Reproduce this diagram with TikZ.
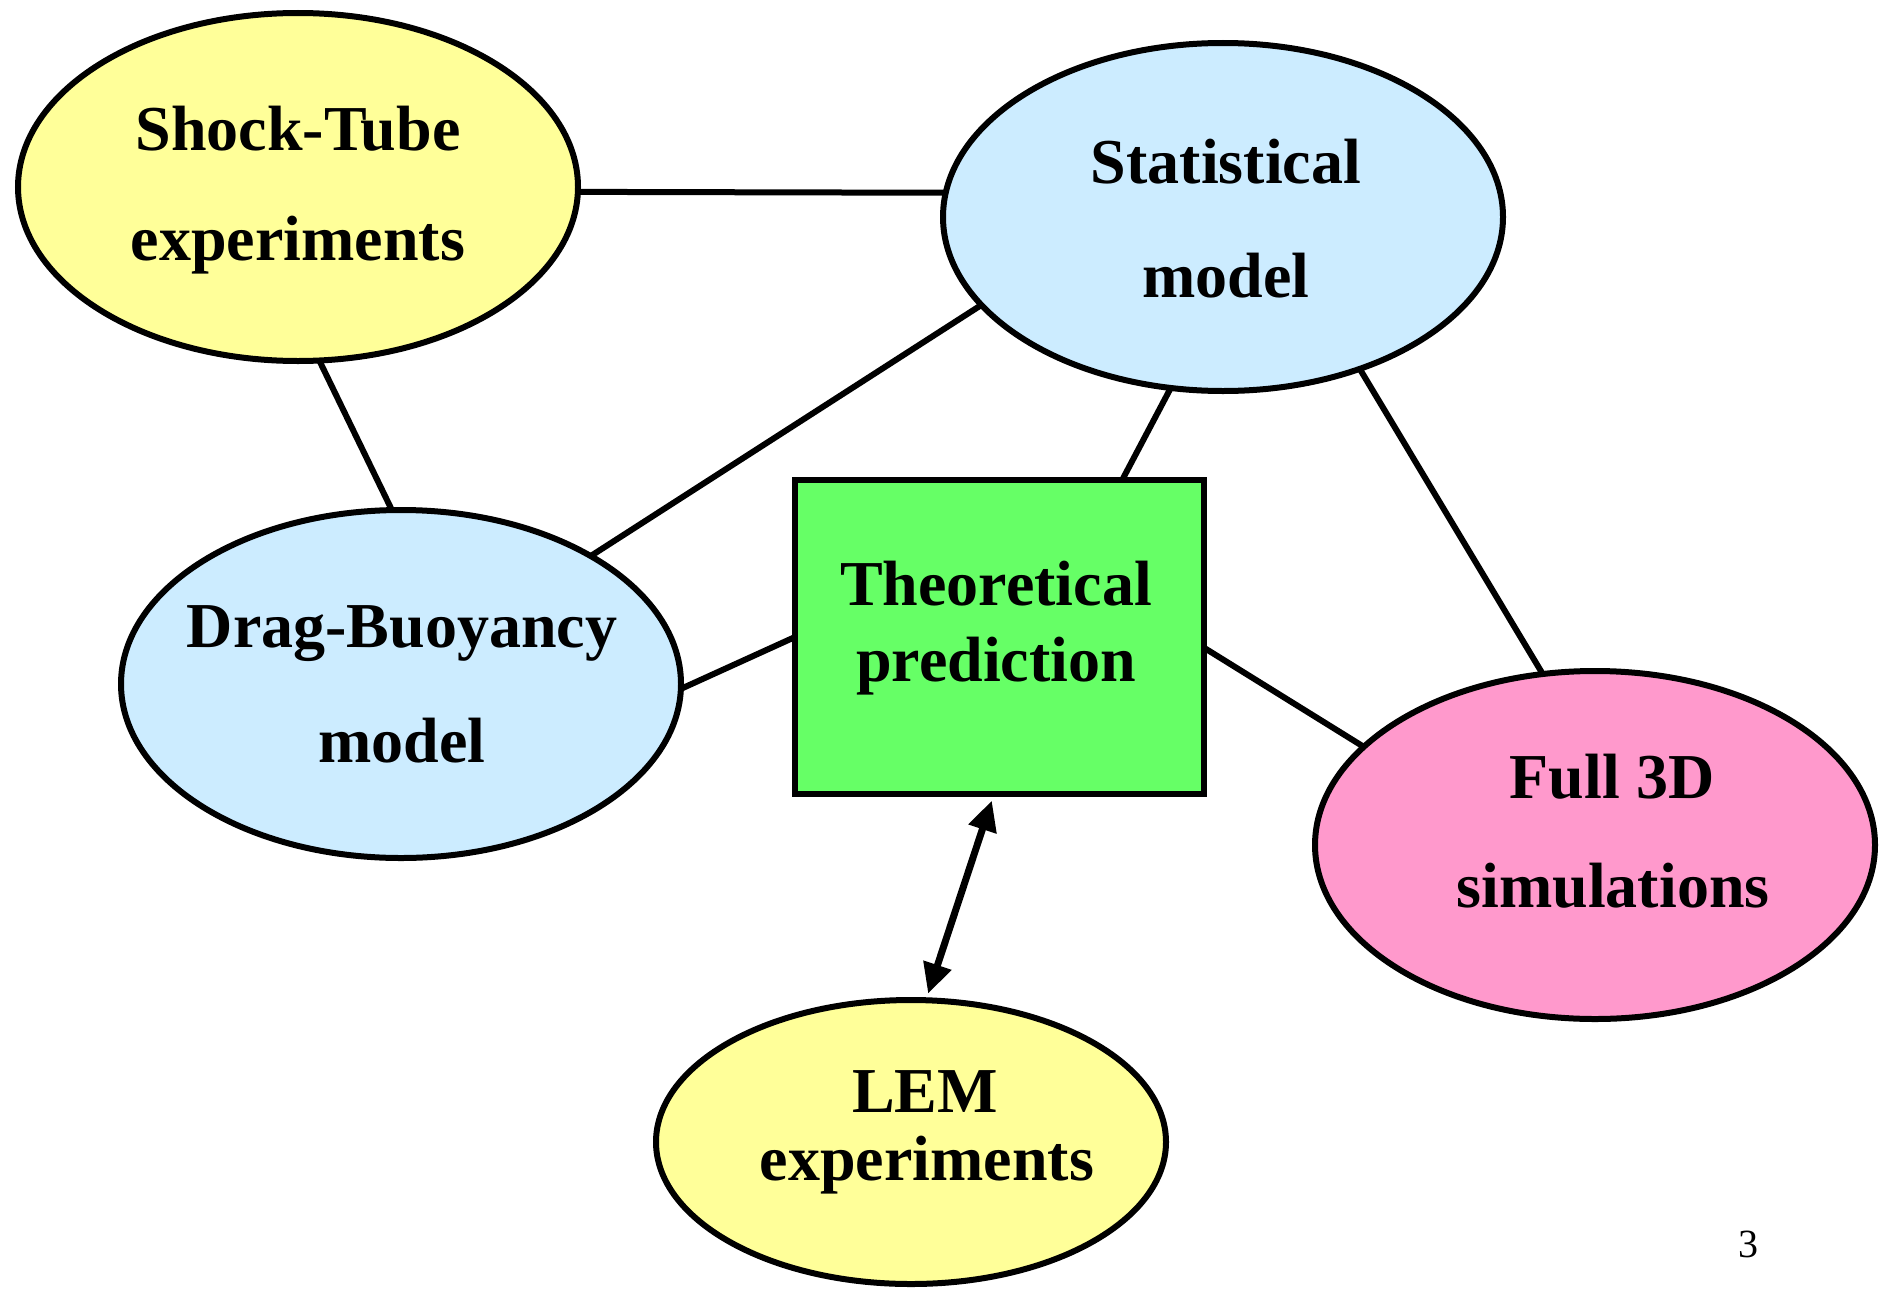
\documentclass[tikz,border=0pt]{standalone}
\usepackage{fontspec}
\setmainfont{Liberation Serif}
\usetikzlibrary{shapes.geometric,arrows.meta}
\definecolor{cyellow}{HTML}{FFFF99}
\definecolor{cblue}{HTML}{CCECFF}
\definecolor{cgreen}{HTML}{66FF66}
\definecolor{cpink}{HTML}{FF99CC}
\begin{document}
\begin{tikzpicture}[x=1pt,y=-1pt,
  bubble/.style={ellipse, draw=black, line width=6pt, inner sep=0pt, outer sep=0pt,
                 minimum width=560pt, minimum height=348pt},
  lab/.style={anchor=base, inner sep=0pt, font=\fontsize{64}{70}\selectfont\bfseries},
  link/.style={line width=6pt, line cap=butt}]
\useasboundingbox (0,0) rectangle (1881,1290);

% connectors first (behind shapes)
\node[bubble, fill=cyellow] (shock) at (298,187) {};
\node[bubble, fill=cblue] (stat) at (1223,217) {};
\node[bubble, fill=cblue] (drag) at (401,684) {};
\node[bubble, fill=cpink] (full) at (1595,845) {};
\node[bubble, fill=cyellow, minimum width=510pt, minimum height=284pt] (lem) at (911,1142) {};
\node[draw=black, line width=6pt, fill=cgreen, inner sep=0pt, outer sep=0pt,
      minimum width=409pt, minimum height=314pt] (theo) at (999.5,637) {};

\draw[link] (shock.-1) -- (stat.175);
\draw[link] (shock.-83) -- (drag.93);
\draw[link] (stat.200) -- (drag.34.5);
\draw[link] (stat.253) -- (theo.52.3);
\draw[link] (stat.-48) -- (full.107.5);
\draw[link] (drag.-1) -- (theo.west);
\draw[link] (theo.-3.4) -- (full.157.4);
\draw[line width=7pt, {Triangle[length=30pt,width=28pt]}-{Triangle[length=30pt,width=28pt]},
      shorten <=7pt, shorten >=7pt] (theo.-92.4) -- (lem.84.6);

\node[lab] (t1) at (298,150) {Shock-Tube};
\node[lab] (t2) at (298,260) {experiments};
\node[lab] (t3) at (1226,183) {Statistical};
\node[lab] (t4) at (1226,297) {model};
\node[lab] (t5) at (402,647) {Drag-Buoyancy};
\node[lab] (t6) at (402,762) {model};
\node[lab] (t7) at (996,605) {Theoretical};
\node[lab] (t8) at (996,681) {prediction};
\node[lab] (t9) at (1612,798) {Full 3D};
\node[lab] (t10) at (1613,907) {simulations};
\node[lab] (t11) at (925,1112) {LEM};
\node[lab] (t12) at (927,1180) {experiments};

\node[anchor=base, inner sep=0pt, font=\fontsize{40}{48}\selectfont] (pg) at (1748,1257) {3};
\end{tikzpicture}
\end{document}
